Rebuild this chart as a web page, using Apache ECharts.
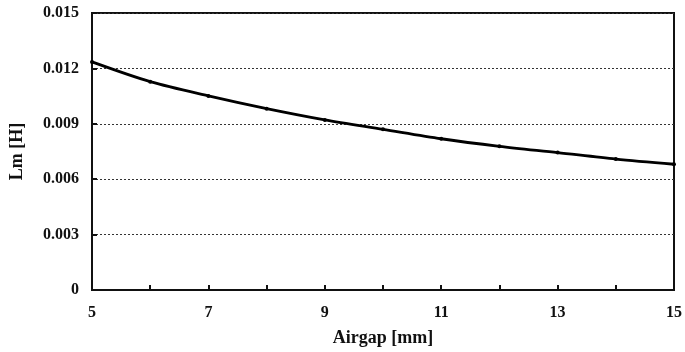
<!DOCTYPE html>
<html>
<head>
<meta charset="utf-8">
<script src="https://cdn.jsdelivr.net/npm/echarts@6/dist/echarts.min.js"></script>
<style>
html,body{margin:0;padding:0;background:#fff;}
#chart{width:685px;height:352px;}
</style>
</head>
<body>
<div id="chart"></div>
<script>
const airgap = [5, 6, 7, 8, 9, 10, 11, 12, 13, 14, 15];
const lm = [0.01235, 0.01128, 0.01051, 0.00982, 0.00921, 0.00870, 0.00819, 0.00778, 0.00744, 0.00709, 0.00681];
const xLabels = [5, 7, 9, 11, 13, 15];
const yLabels = ['0', '0.003', '0.006', '0.009', '0.012', '0.015'];

const font = '"Liberation Serif", "DejaVu Serif", serif';
const chart = echarts.init(document.getElementById('chart'));
chart.setOption({
  animation: false,
  backgroundColor: '#fff',
  grid: {left: 92, right: 8, top: 13, bottom: 62, show: true, borderColor: '#111', borderWidth: 2, backgroundColor: 'transparent'},
  xAxis: {
    type: 'value', min: 5, max: 15, interval: 1,
    name: 'Airgap [mm]', nameLocation: 'middle', nameGap: 39,
    nameTextStyle: {fontFamily: font, fontWeight: 'bold', fontSize: 18, color: '#111'},
    axisLine: {show: true, lineStyle: {color: '#111', width: 2}},
    axisTick: {show: true, inside: true, length: 5, lineStyle: {color: '#111', width: 2}},
    axisLabel: {
      margin: 15, fontFamily: font, fontWeight: 'bold', fontSize: 16, color: '#111',
      formatter: v => xLabels.indexOf(v) >= 0 ? String(v) : ''
    },
    splitLine: {show: false}
  },
  yAxis: {
    type: 'value', min: 0, max: 0.015, interval: 0.003,
    name: 'Lm [H]', nameLocation: 'middle', nameGap: 66, nameRotate: 90,
    nameTextStyle: {fontFamily: font, fontWeight: 'bold', fontSize: 18, color: '#111'},
    axisLine: {show: true, lineStyle: {color: '#111', width: 2}},
    axisTick: {show: true, inside: true, length: 5, lineStyle: {color: '#111', width: 2}},
    axisLabel: {
      margin: 13, fontFamily: font, fontWeight: 'bold', fontSize: 16, color: '#111',
      formatter: (v, i) => yLabels[i]
    },
    splitLine: {show: true, lineStyle: {color: '#333', type: [2, 2], width: 1}}
  },
  series: [{
    type: 'line',
    data: airgap.map((x, i) => [x, lm[i]]),
    smooth: 0.3,
    symbol: 'circle', symbolSize: 4,
    itemStyle: {color: '#000'},
    lineStyle: {color: '#000', width: 2.8}
  }]
});
</script>
</body>
</html>
